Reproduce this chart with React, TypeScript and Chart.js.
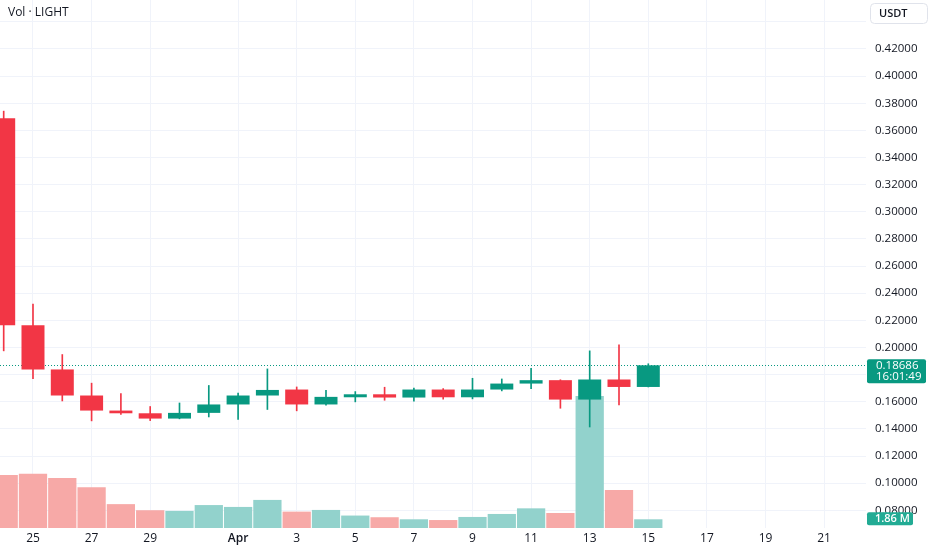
import React, { useEffect, useRef } from 'react';
import { Chart, registerables } from 'chart.js';

Chart.register(...registerables);

// Day index counted from March 1 (Apr 1 = 32)
const days = [24, 25, 26, 27, 28, 29, 30, 31, 32, 33, 34, 35, 36, 37, 38, 39, 40, 41, 42, 43, 44, 45, 46];
const opens = [0.369, 0.2164, 0.1838, 0.1646, 0.1535, 0.1515, 0.1476, 0.1518, 0.158, 0.1646, 0.169, 0.158, 0.1633, 0.1655, 0.1631, 0.169, 0.1633, 0.169, 0.1734, 0.1759, 0.1616, 0.1764, 0.1709];
const highs = [0.3742, 0.2319, 0.1948, 0.1737, 0.1661, 0.1565, 0.1591, 0.172, 0.1663, 0.1842, 0.1709, 0.1685, 0.1675, 0.1707, 0.17, 0.1697, 0.1773, 0.1768, 0.1847, 0.1762, 0.1975, 0.2019, 0.188];
const lows = [0.1975, 0.1771, 0.1606, 0.1459, 0.1506, 0.1461, 0.1474, 0.1488, 0.1469, 0.1543, 0.1533, 0.1574, 0.1599, 0.1611, 0.1604, 0.1619, 0.1621, 0.168, 0.1697, 0.1552, 0.1414, 0.1577, 0.1709];
const closes = [0.2164, 0.1838, 0.1646, 0.1535, 0.1515, 0.1476, 0.1518, 0.158, 0.1646, 0.1687, 0.158, 0.1636, 0.1655, 0.1631, 0.169, 0.1633, 0.169, 0.1734, 0.1759, 0.1616, 0.1764, 0.1709, 0.18686];
// Volume in millions
const volumes = [11.3, 11.6, 10.7, 8.7, 5.1, 3.8, 3.65, 4.9, 4.5, 6.0, 3.5, 3.86, 2.66, 2.3, 1.86, 1.7, 2.36, 3.0, 4.2, 3.2, 28.2, 8.1, 1.86];

const xTickDays = [25, 27, 29, 32, 34, 36, 38, 40, 42, 44, 46, 48, 50, 52];
const xTickLabels = ['25', '27', '29', 'Apr', '3', '5', '7', '9', '11', '13', '15', '17', '19', '21'];
const priceTicks = [0.08, 0.1, 0.12, 0.14, 0.16, 0.18, 0.2, 0.22, 0.24, 0.26, 0.28, 0.3, 0.32, 0.34, 0.36, 0.38, 0.4, 0.42, 0.44];
const lastTime = '16:01:49';
const title = 'Vol · LIGHT';
const currency = 'USDT';

const RED = '#F23645';
const GREEN = '#089981';
const RED_VOL = '#F7A9A7';
const GREEN_VOL = '#92D2CC';
const FONT = '"Open Sans", "Liberation Sans", sans-serif';
const TEXT = '#131722';
const GRID = '#F0F3FA';

export default function App() {
  const ref = useRef<HTMLCanvasElement | null>(null);

  useEffect(() => {
    const canvas = ref.current;
    if (!canvas) return;
    const up = closes.map((c, i) => c >= opens[i]);
    const lastClose = closes[closes.length - 1];
    const lastVol = volumes[volumes.length - 1];

    const overlay = {
      id: 'overlay',
      beforeDatasetsDraw(chart: any) {
        const { ctx, chartArea, scales } = chart;
        const y = Math.round(scales.y.getPixelForValue(lastClose)) + 0.5;
        ctx.save();
        ctx.strokeStyle = GREEN;
        ctx.lineWidth = 1;
        ctx.setLineDash([1, 2]);
        ctx.beginPath();
        ctx.moveTo(chartArea.left, y);
        ctx.lineTo(chartArea.right, y);
        ctx.stroke();
        ctx.restore();
      },
      afterDraw(chart: any) {
        const { ctx, chartArea, scales } = chart;
        ctx.save();
        ctx.fillStyle = TEXT;
        ctx.font = `12px ${FONT}`;
        ctx.textBaseline = 'middle';
        ctx.textAlign = 'left';
        ctx.fillText(title, 8, 13);

        ctx.beginPath();
        ctx.roundRect(870.5, 3.5, 57, 20, 4);
        ctx.fillStyle = '#ffffff';
        ctx.fill();
        ctx.strokeStyle = '#E0E3EB';
        ctx.lineWidth = 1;
        ctx.stroke();
        ctx.fillStyle = TEXT;
        ctx.font = `600 11px ${FONT}`;
        ctx.fillText(currency, 879, 13.5);

        const py = scales.y.getPixelForValue(lastClose);
        const bx = chartArea.right + 1;
        ctx.beginPath();
        ctx.roundRect(bx, py - 6, 59, 24, 2);
        ctx.fillStyle = GREEN;
        ctx.fill();
        ctx.fillStyle = '#ffffff';
        ctx.font = `11.5px ${FONT}`;
        ctx.fillText(lastClose.toFixed(5), bx + 9, py + 0.5);
        ctx.fillText(lastTime, bx + 9, py + 11.5);

        const vy = scales.yv.getPixelForValue(lastVol);
        ctx.beginPath();
        ctx.roundRect(bx, vy - 7, 46, 13, 2);
        ctx.fillStyle = '#22AB94';
        ctx.fill();
        ctx.fillStyle = '#ffffff';
        ctx.font = `600 11px ${FONT}`;
        ctx.fillText(`${lastVol.toFixed(2)} M`, bx + 8, vy - 0.5);
        ctx.restore();
      },
    };

    const chart = new Chart(canvas, {
      type: 'bar',
      data: {
        datasets: [
          {
            label: 'volume',
            yAxisID: 'yv',
            data: days.map((d, i) => ({ x: d, y: volumes[i] })),
            backgroundColor: up.map((u) => (u ? GREEN_VOL : RED_VOL)),
            grouped: false,
            categoryPercentage: 1,
            barPercentage: 0.965,
            order: 3,
          } as any,
          {
            label: 'wick',
            yAxisID: 'y',
            data: days.map((d, i) => ({ x: d, y: [lows[i], highs[i]] })),
            backgroundColor: up.map((u) => (u ? GREEN : RED)),
            grouped: false,
            barThickness: 1,
            order: 2,
          } as any,
          {
            label: 'body',
            yAxisID: 'y',
            data: days.map((d, i) => ({ x: d, y: [opens[i], closes[i]] })),
            backgroundColor: up.map((u) => (u ? GREEN : RED)),
            grouped: false,
            categoryPercentage: 1,
            barPercentage: 0.785,
            order: 1,
          } as any,
        ],
      },
      options: {
        responsive: false,
        animation: false,
        events: [],
        layout: { padding: 0 },
        plugins: {
          legend: { display: false },
          tooltip: { enabled: false },
        },
        scales: {
          x: {
            type: 'linear',
            offset: false,
            min: 23.874,
            max: 53.43,
            border: { display: false },
            grid: { color: GRID, drawTicks: false, offset: false },
            afterBuildTicks: (scale: any) => {
              scale.ticks = xTickDays.map((v) => ({ value: v }));
            },
            afterFit: (scale: any) => {
              scale.height = 22;
              scale.paddingLeft = 0;
              scale.paddingRight = 0;
            },
            ticks: {
              autoSkip: false,
              maxRotation: 0,
              padding: 3,
              color: TEXT,
              font: (c: any) => ({
                family: FONT,
                size: 12,
                weight: c.tick && c.tick.value === 32 ? '600' : '400',
              }),
              callback: (v: any) => {
                const i = xTickDays.indexOf(Number(v));
                return i >= 0 ? xTickLabels[i] : '';
              },
            },
          },
          y: {
            type: 'linear',
            position: 'right',
            min: 0.06695,
            max: 0.4561,
            border: { display: false },
            grid: { color: GRID, drawTicks: false },
            afterBuildTicks: (scale: any) => {
              scale.ticks = priceTicks.map((v) => ({ value: v }));
            },
            afterFit: (scale: any) => {
              scale.width = 66;
              scale.paddingTop = 0;
              scale.paddingBottom = 0;
            },
            ticks: {
              padding: 9,
              color: TEXT,
              font: { family: FONT, size: 11.5 },
              callback: (v: any) => (Number(v) > 0.43 ? '' : Number(v).toFixed(5)),
            },
          },
          yv: {
            type: 'linear',
            display: false,
            min: 0,
            max: 112.8,
          },
        },
      } as any,
      plugins: [overlay],
    });

    return () => chart.destroy();
  }, []);

  return (
    <div style={{ position: 'absolute', left: 0, top: 0, width: 932, height: 550, background: '#ffffff' }}>
      <canvas ref={ref} width={932} height={550} style={{ display: 'block' }} />
    </div>
  );
}
